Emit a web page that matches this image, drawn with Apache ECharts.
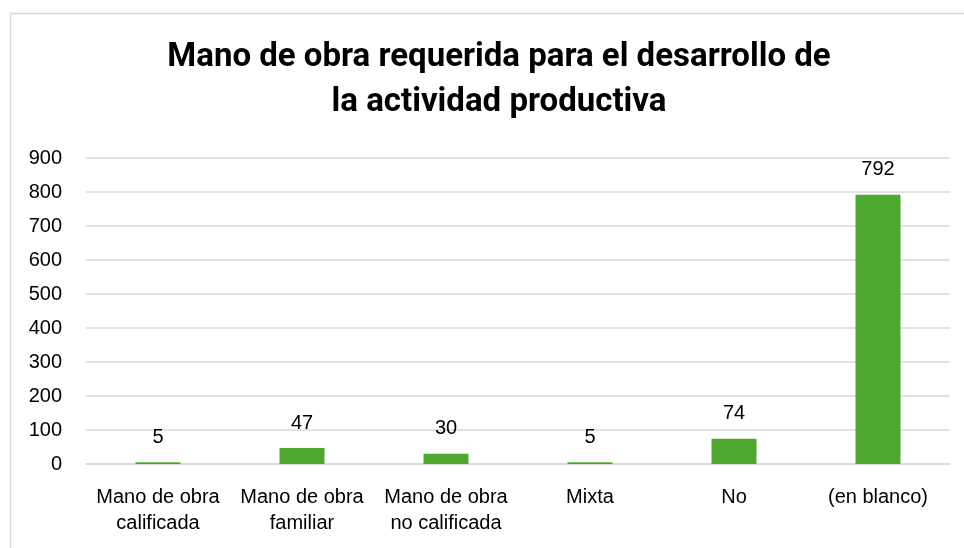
<!DOCTYPE html>
<html>
<head>
<meta charset="utf-8">
<script src="https://cdn.jsdelivr.net/npm/echarts@6/dist/echarts.min.js"></script>
<style>
  html, body { margin: 0; padding: 0; background: #fff; }
  #chart { width: 964px; height: 548px; }
</style>
</head>
<body>
<div id="chart"></div>
<script>
// datos
const categories = ['Mano de obra\ncalificada', 'Mano de obra\nfamiliar', 'Mano de obra\nno calificada', 'Mixta', 'No', '(en blanco)']
const values = [5, 47, 30, 5, 74, 792]

const chart = echarts.init(document.getElementById('chart'))

chart.setOption({
  backgroundColor: '#fff',
  animation: false,
  title: {
    text: 'Mano de obra requerida para el desarrollo de\nla actividad productiva',
    left: 494,
    top: 30,
    textAlign: 'center',
    textStyle: {
      fontFamily: 'Roboto',
      fontWeight: 'bold',
      fontSize: 33,
      lineHeight: 45,
      color: '#000'
    }
  },
  graphic: [
    {
      type: 'rect',
      shape: { x: 10.5, y: 13.5, width: 1000, height: 600 },
      style: { fill: 'none', stroke: '#d9d9d9', lineWidth: 1.5 },
      silent: true
    }
  ],
  grid: {
    left: 86,
    right: 14,
    top: 158,
    bottom: 84,
    containLabel: false
  },
  xAxis: {
    type: 'category',
    data: categories,
    axisLine: { lineStyle: { color: '#d9d9d9', width: 1.5 } },
    axisTick: { show: false },
    axisLabel: {
      color: '#000',
      fontFamily: 'Liberation Sans',
      fontSize: 20,
      lineHeight: 26,
      margin: 20,
      interval: 0
    }
  },
  yAxis: {
    type: 'value',
    min: 0,
    max: 900,
    interval: 100,
    axisLine: { show: false },
    axisTick: { show: false },
    splitLine: { lineStyle: { color: '#d9d9d9', width: 1.5 } },
    axisLabel: {
      color: '#000',
      fontFamily: 'Liberation Sans',
      fontSize: 20,
      margin: 24
    }
  },
  series: [
    {
      type: 'bar',
      data: values,
      barWidth: 45,
      itemStyle: { color: '#4ea72e' },
      label: {
        show: true,
        position: 'top',
        distance: 15,
        color: '#000',
        fontFamily: 'Liberation Sans',
        fontSize: 20
      }
    }
  ]
})
</script>
</body>
</html>
